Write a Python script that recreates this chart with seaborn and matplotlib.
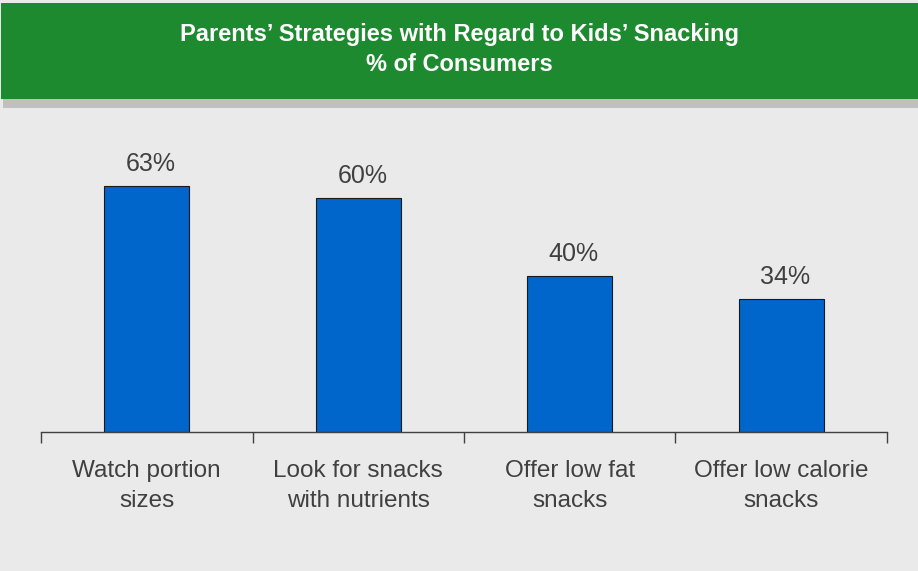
import matplotlib
matplotlib.use("Agg")
import matplotlib.pyplot as plt
from matplotlib.patches import Rectangle
from matplotlib.ticker import FixedLocator
import seaborn as sns
import pandas as pd

# Survey results
categories = ["Watch portion\nsizes", "Look for snacks\nwith nutrients",
              "Offer low fat\nsnacks", "Offer low calorie\nsnacks"]
shares = [63, 60, 40, 34]
title_lines = ["Parents\u2019 Strategies with Regard to Kids\u2019 Snacking",
               "% of Consumers"]

BG = "#EAEAEA"
GREEN = "#1E8A30"
SHADOW = "#C0C0C0"
BAR = "#0066CC"
TEXT = "#404040"

sns.set_theme(style="white")
plt.rcParams["font.family"] = ["Liberation Sans", "DejaVu Sans"]

df = pd.DataFrame({"strategy": categories, "share": shares})

fig = plt.figure(figsize=(9.18, 5.71), dpi=100)
fig.patch.set_facecolor(BG)

# Header banner with drop shadow
fig.patches.append(Rectangle((3 / 918, 1 - 108 / 571), 1, 9 / 571,
                             transform=fig.transFigure, facecolor=SHADOW,
                             edgecolor="none", zorder=0))
fig.patches.append(Rectangle((1 / 918, 1 - 99 / 571), 1, 96 / 571,
                             transform=fig.transFigure, facecolor=GREEN,
                             edgecolor="none", zorder=1))
fig.text(0.5, 1 - 41 / 571, title_lines[0], color="white", fontsize=17,
         fontweight="bold", ha="center", va="baseline")
fig.text(0.5, 1 - 71 / 571, title_lines[1], color="white", fontsize=17,
         fontweight="bold", ha="center", va="baseline")

ax = fig.add_axes([41 / 918, 1 - 432 / 571, 846 / 918, 312 / 571])
ax.set_facecolor(BG)
sns.barplot(data=df, x="strategy", y="share", color=BAR, width=0.4,
            edgecolor="#1A1A1A", linewidth=0.8, saturation=1, ax=ax)

for i, v in enumerate(shares):
    ax.annotate(f"{v}%", (i, v), xytext=(3, 7.5), textcoords="offset points",
                ha="center", va="bottom", fontsize=18, color=TEXT)

ax.set_xlim(-0.5, len(categories) - 0.5)
ax.set_ylim(0, 80)
ax.set_xlabel("")
ax.set_ylabel("")
ax.set_yticks([])

# Boundary ticks between categories, labels centred under bars
ax.xaxis.set_major_locator(FixedLocator([i - 0.5 for i in range(len(categories) + 1)]))
ax.set_xticklabels([""] * (len(categories) + 1))
ax.xaxis.set_minor_locator(FixedLocator(list(range(len(categories)))))
ax.set_xticklabels(categories, minor=True, fontsize=17.5, color=TEXT,
                   linespacing=1.45)
ax.tick_params(axis="x", which="major", direction="out", length=8,
               width=1, color="#404040", bottom=True)
ax.tick_params(axis="x", which="minor", length=0, pad=20.5)

for side in ["left", "right", "top"]:
    ax.spines[side].set_visible(False)
ax.spines["bottom"].set_color("#404040")
ax.spines["bottom"].set_linewidth(1)

fig.savefig("out.png", dpi=100, facecolor=BG)
